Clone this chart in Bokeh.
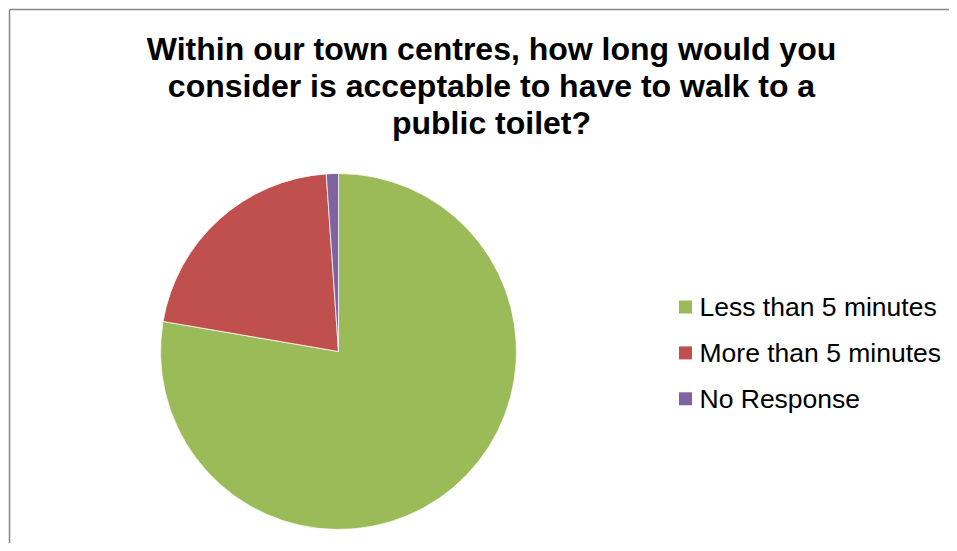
import math
from bokeh.plotting import figure
from bokeh.models import Range1d, ColumnDataSource
from bokeh.core.properties import value
from bokeh.embed import file_html
from bokeh.resources import INLINE

# ---- data ----
categories = ["Less than 5 minutes", "More than 5 minutes", "No Response"]
shares = [77.7, 21.2, 1.1]
colors = ["#9BBB59", "#C0504D", "#8064A2"]
title_lines = ["Within our town centres, how long would you",
               "consider is acceptable to have to walk to a",
               "public toilet?"]

W, H = 949, 543
p = figure(width=W, height=H, output_backend="svg", toolbar_location=None,
           x_range=Range1d(0, W), y_range=Range1d(0, H), min_border=0)
p.axis.visible = False
p.grid.visible = False
p.outline_line_color = None
p.background_fill_color = "white"
p.border_fill_color = "white"

def Y(fy):
    return H - fy

# chart border (top and left edges visible)
p.segment(x0=[9, 9], y0=[Y(9), Y(9)], x1=[W, 9], y1=[Y(9), 0],
          line_color="#888888", line_width=1.5)

# pie wedges, clockwise from 12 o'clock
total = sum(shares)
starts, ends = [], []
acc = 0.0
for s in shares:
    a0 = math.pi / 2 - 2 * math.pi * acc / total
    acc += s
    a1 = math.pi / 2 - 2 * math.pi * acc / total
    starts.append(a0)
    ends.append(a1)
src = ColumnDataSource(dict(start=starts, end=ends, color=colors, cat=categories))
p.wedge(x=338, y=Y(351), radius=178, start_angle="start", end_angle="end",
        direction="clock", fill_color="color", line_color="white",
        line_width=0.75, source=src)

# legend
n = len(categories)
lx = [685] * n
ly = [Y(306.5 + 45.9 * i) for i in range(n)]
p.scatter(x=lx, y=ly, marker="square", size=13, fill_color=colors, line_color=None)
p.text(x=[699] * n, y=[Y(306.5 + 45.9 * i) for i in range(n)], text=categories,
       text_font=value("Liberation Sans"), text_font_size="26.5px",
       text_color="#000000", text_baseline="middle", text_align="left")

# title
p.text(x=[491] * 3, y=[Y(48 + 37 * i) for i in range(3)], text=title_lines,
       text_font=value("Liberation Sans"), text_font_style="bold",
       text_font_size="32px", text_color="#000000",
       text_baseline="middle", text_align="center")

open("out.html", "w").write(file_html(p, INLINE))
